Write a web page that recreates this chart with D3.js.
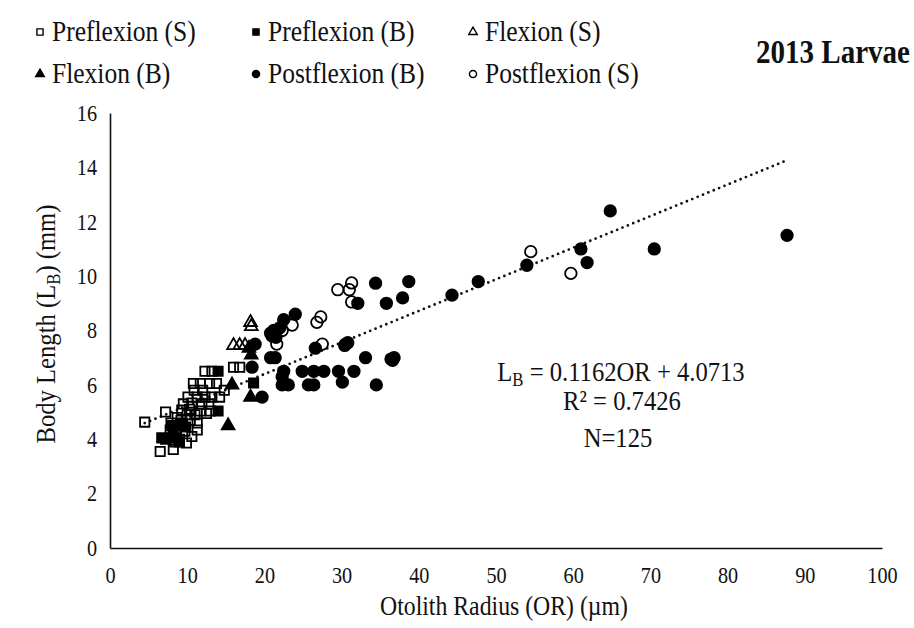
<!DOCTYPE html>
<html>
<head>
<meta charset="utf-8">
<script src="https://cdn.jsdelivr.net/npm/d3@7"></script>
<style>
  body { margin: 0; background: #fff; }
  svg text { font-family: "Liberation Serif", "Times New Roman", serif; fill: #111; }
  /* the reference type is a tall, slightly squeezed Times */
  .cond { transform-box: fill-box; transform: scaleX(0.88); }
  .oc { transform-origin: 50% 50%; }
  .ol { transform-origin: 0% 50%; }
  .or { transform-origin: 100% 50%; }
</style>
</head>
<body>
<div id="chart"></div>
<script>
// series values: [otolith radius, body length]
const preflexionS = [
  [4.5, 4.63], [7.2, 5.0], [6.5, 3.55], [8.2, 3.62], [9.9, 3.86], [8.7, 4.8],
  [10.0, 4.9], [11.0, 4.9], [9.5, 5.3], [10.6, 5.33], [11.3, 4.6], [11.3, 4.34],
  [7.9, 4.6], [7.8, 4.34], [10.1, 5.55], [11.3, 5.55], [12.3, 5.55], [13.2, 5.55],
  [14.2, 5.55], [10.8, 6.05], [11.7, 6.05], [13.8, 6.05], [14.8, 5.8], [11.7, 5.04],
  [13.0, 5.04], [9.3, 5.07], [12.3, 6.5], [13.2, 6.5], [16.0, 6.65], [16.8, 6.65],
  [9.0, 4.0], [12.0, 5.8], [9.7, 4.3], [10.4, 4.7], [12.8, 5.3], [8.4, 3.9],
  [10.6, 4.1], [12.5, 4.95], [9.2, 4.7], [10.9, 5.8], [12.9, 6.05], [8.6, 4.2],
  [11.9, 5.3], [10.3, 5.1]
];
const preflexionB = [
  [6.7, 4.05], [7.8, 4.05], [8.2, 4.27], [8.7, 4.5], [9.4, 4.6], [14.0, 5.04],
  [14.0, 6.5], [18.6, 6.07], [9.0, 3.9], [7.2, 4.0], [8.0, 4.5], [9.8, 4.45],
  [8.5, 4.05]
];
const flexionS = [
  [16.0, 7.45], [16.8, 7.45], [17.5, 7.45], [18.2, 8.3], [18.3, 8.15]
];
const flexionB = [
  [15.8, 6.0], [18.2, 5.55], [15.3, 4.5], [18.3, 7.1], [18.0, 7.35]
];
const postflexionB = [
  [64.8, 12.4], [61.0, 11.0], [61.8, 10.5], [70.5, 11.0], [87.7, 11.5], [54.0, 10.4],
  [47.7, 9.8], [44.3, 9.3], [38.7, 9.8], [37.9, 9.2], [35.8, 9.0], [34.4, 9.74],
  [32.1, 9.0], [24.0, 8.6], [22.5, 8.4], [21.2, 8.0], [21.0, 7.8], [20.8, 7.9],
  [18.8, 7.5], [20.8, 7.0], [26.6, 7.35], [30.5, 7.5], [33.1, 7.0], [36.4, 6.95],
  [36.8, 7.0], [22.5, 6.5], [24.9, 6.5], [26.4, 6.5], [27.7, 6.5], [29.6, 6.5],
  [31.6, 6.5], [18.4, 6.65], [22.3, 6.0], [23.1, 6.0], [25.7, 6.0], [26.4, 6.0],
  [30.1, 6.1], [34.5, 6.0], [19.7, 5.55], [22.3, 6.3], [21.4, 7.0], [22.0, 8.1],
  [30.8, 7.55], [21.5, 7.75], [36.6, 6.9], [30.4, 7.45]
];
const postflexionS = [
  [29.5, 9.5], [31.3, 9.75], [31.0, 9.5], [31.3, 9.05], [27.3, 8.5], [26.8, 8.3],
  [23.6, 8.2], [22.3, 8.0], [21.6, 7.5], [27.5, 7.5], [54.5, 10.9], [59.7, 10.1]
];

// regression reported on the chart
const slope = 0.1162, intercept = 4.0713, rSquared = 0.7426;
const xTicks = [0, 10, 20, 30, 40, 50, 60, 70, 80, 90, 100];
const yTicks = [0, 2, 4, 6, 8, 10, 12, 14, 16];

const series = [
  { name: "Preflexion (S)", data: preflexionS, shape: "square", filled: false },
  { name: "Preflexion (B)", data: preflexionB, shape: "square", filled: true },
  { name: "Flexion (S)", data: flexionS, shape: "triangle", filled: false },
  { name: "Flexion (B)", data: flexionB, shape: "triangle", filled: true },
  { name: "Postflexion (B)", data: postflexionB, shape: "circle", filled: true },
  { name: "Postflexion (S)", data: postflexionS, shape: "circle", filled: false }
];

const W = 914, H = 628;
const svg = d3.select("#chart").append("svg").attr("width", W).attr("height", H);

const x = d3.scaleLinear().domain([0, 100]).range([110, 882]);
const y = d3.scaleLinear().domain([0, 16]).range([548, 113]);

// axes (no tick marks, just labels)
const xAxis = svg.append("g")
  .attr("transform", "translate(0," + y(0) + ")")
  .call(d3.axisBottom(x).tickValues(xTicks).tickSize(0).tickSizeOuter(0).tickPadding(19));
const yAxis = svg.append("g")
  .attr("transform", "translate(" + x(0) + ",0)")
  .call(d3.axisLeft(y).tickValues(yTicks).tickSize(0).tickSizeOuter(0).tickPadding(13));

[xAxis, yAxis].forEach((g) => {
  g.select(".domain").attr("stroke", "#111").attr("stroke-width", 1.6);
  g.selectAll("text")
    .style("font-family", "Liberation Serif")
    .style("font-size", "23px")
    .attr("fill", "#111")
    .attr("class", "cond");
});
xAxis.selectAll("text").classed("oc", true);
yAxis.selectAll("text").classed("or", true);

// trendline between min and max x
const allX = series.flatMap((s) => s.data.map((d) => d[0]));
const xMin = d3.min(allX), xMax = d3.max(allX);
svg.append("line")
  .attr("x1", x(xMin)).attr("y1", y(slope * xMin + intercept))
  .attr("x2", x(xMax)).attr("y2", y(slope * xMax + intercept))
  .attr("stroke", "#111")
  .attr("stroke-width", 2.8)
  .attr("stroke-linecap", "round")
  .attr("stroke-dasharray", "0,5.8");

const symbolPath = (shape, size) => {
  if (shape === "square") return d3.symbol(d3.symbolSquare, size)();
  if (shape === "triangle") return d3.symbol(d3.symbolTriangle, size)();
  return d3.symbol(d3.symbolCircle, size)();
};

const markSize = { square: 86, triangle: 70, circle: 104 };

series.forEach((s) => {
  svg.append("g")
    .selectAll("path")
    .data(s.data)
    .join("path")
    .attr("d", symbolPath(s.shape, markSize[s.shape]))
    .attr("transform", (d) => "translate(" + x(d[0]) + "," + y(d[1]) + ")")
    .attr("fill", s.filled ? "#000" : "#fff")
    .attr("fill-opacity", s.filled ? 1 : 0)
    .attr("stroke", "#000")
    .attr("stroke-width", 1.8);
});

// legend, two rows of three
const legendCols = [40, 256, 473];
const legendRows = [31, 73];
series.forEach((s, i) => {
  const lx = legendCols[i % 3], ly = legendRows[Math.floor(i / 3)];
  const sz = s.shape === "circle" ? 40 : s.shape === "triangle" ? 32 : 38;
  svg.append("path")
    .attr("d", symbolPath(s.shape, sz))
    .attr("transform", "translate(" + lx + "," + (ly + 1) + ")")
    .attr("fill", s.filled ? "#000" : "#fff")
    .attr("stroke", "#000")
    .attr("stroke-width", 1.4);
  svg.append("text")
    .attr("class", "cond ol")
    .attr("x", lx + 12)
    .attr("y", ly)
    .attr("dy", "0.35em")
    .style("font-size", "29px")
    .text(s.name);
});

// title
svg.append("text")
  .attr("class", "cond or")
  .attr("x", 910).attr("y", 51)
  .attr("dy", "0.35em")
  .attr("text-anchor", "end")
  .style("font-size", "33px")
  .style("font-weight", "bold")
  .text("2013 Larvae");

// axis titles
svg.append("text")
  .attr("class", "cond oc")
  .attr("x", (x(0) + x(100)) / 2 + 8)
  .attr("y", 606)
  .attr("dy", "0.35em")
  .attr("text-anchor", "middle")
  .style("font-size", "27px")
  .text("Otolith Radius (OR) (µm)");

const yTitle = svg.append("g")
  .attr("transform", "translate(45,324) rotate(-90)")
  .append("text")
  .attr("class", "cond oc")
  .attr("text-anchor", "middle")
  .attr("dy", "0.35em")
  .style("font-size", "28px");
yTitle.append("tspan").text("Body Length (L");
yTitle.append("tspan").attr("dy", "5").style("font-size", "19px").text("B");
yTitle.append("tspan").attr("dy", "-5").text(") (mm)");

// regression annotation
const eq = svg.append("text")
  .attr("class", "cond oc")
  .attr("x", 621).attr("y", 381)
  .attr("text-anchor", "middle")
  .style("font-size", "28px");
eq.append("tspan").text("L");
eq.append("tspan").attr("dy", "5").style("font-size", "19px").text("B");
eq.append("tspan").attr("dy", "-5").text(" = " + slope + "OR  + " + intercept);

svg.append("text")
  .attr("class", "cond oc")
  .attr("x", 622).attr("y", 410)
  .attr("text-anchor", "middle")
  .style("font-size", "28px")
  .text("R² = " + rSquared);

const nTotal = series.reduce((a, s) => a + s.data.length, 0);
svg.append("text")
  .attr("class", "cond oc")
  .attr("x", 618).attr("y", 447)
  .attr("text-anchor", "middle")
  .style("font-size", "28px")
  .text("N=" + nTotal);
</script>
</body>
</html>
